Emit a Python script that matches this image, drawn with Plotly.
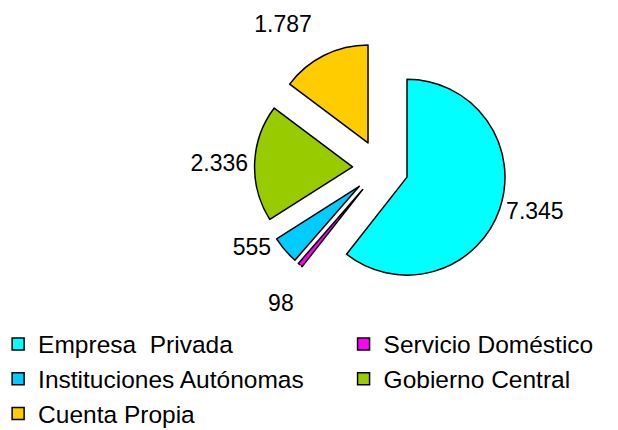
import plotly.graph_objects as go

labels = ["Empresa  Privada", "Servicio Doméstico", "Instituciones Autónomas",
          "Gobierno Central", "Cuenta Propia"]
values = [7345, 98, 555, 2336, 1787]
colors = ["#00FFFF", "#FF00FF", "#00CCFF", "#99CC00", "#FFCC00"]

FONT = "Liberation Sans, Arial, sans-serif"
line = dict(color="black", width=1.5)

# label text styling (black text via span; trace text colour white so leader lines vanish on white)
lab = "<span style='color:black;font-size:23px'>%{value:,.0f}</span>"
templates = [lab, lab, lab + "<br>&nbsp;", lab, lab + "<br>&nbsp;"]
label_sizes = [23, 23, 23, 23, 19]

fig = go.Figure()

# legend-only proxy pies (tiny, hidden beneath the legend box) to get a two-column legend
left_idx = [0, 2, 4]
right_idx = [1, 3]
for idx, leg in ((left_idx, "legend"), (right_idx, "legend2")):
    fig.add_trace(go.Pie(
        labels=[labels[i] for i in idx],
        values=[values[i] for i in idx],
        marker=dict(colors=[colors[i] for i in idx], line=line),
        sort=False, textinfo="none", hoverinfo="skip",
        domain=dict(x=[0.92, 0.921], y=[0.1, 0.101]),
        legend=leg, showlegend=True, automargin=False,
    ))

fig.add_trace(go.Pie(
    labels=labels, values=values,
    marker=dict(colors=colors, line=line),
    sort=False, direction="clockwise", rotation=0,
    pull=[0.286] * len(values),
    textinfo="value", textposition="outside",
    texttemplate=templates,
    textfont=dict(family=FONT, size=label_sizes, color="white"),
    outsidetextfont=dict(family=FONT, size=label_sizes, color="white"),
    domain=dict(x=[0.3989, 0.8067], y=[0.3349, 0.9209]),
    showlegend=False, automargin=False,
))

LEGFONT = dict(family=FONT, size=24.5, color="black")
fig.update_layout(
    width=618, height=430,
    margin=dict(l=0, r=0, t=0, b=0, autoexpand=False),
    paper_bgcolor="white", plot_bgcolor="white",
    separators=",.",
    font=dict(family=FONT, color="black"),
    legend=dict(x=-0.016, y=0.271, xanchor="left", yanchor="top",
                orientation="v", font=LEGFONT, bgcolor="white", borderwidth=0),
    legend2=dict(x=0.543, y=0.271, xanchor="left", yanchor="top",
                 orientation="v", font=LEGFONT, bgcolor="white", borderwidth=0),
)

fig.write_html("out.html")
